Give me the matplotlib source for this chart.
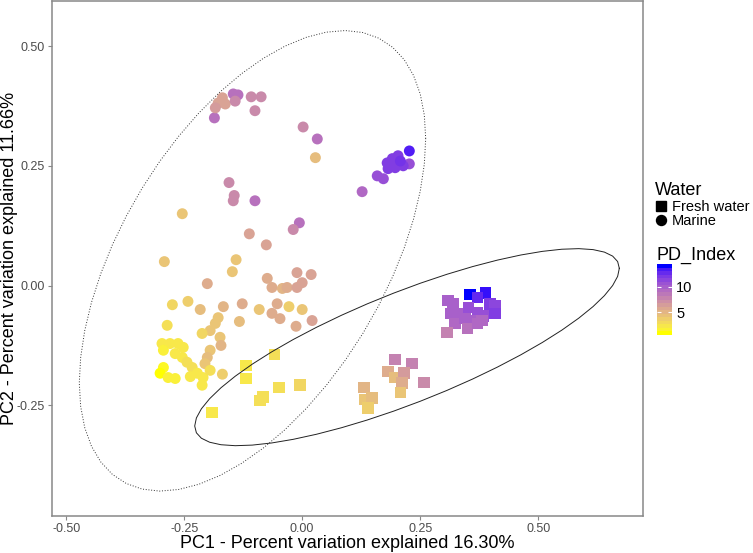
import numpy as np
import matplotlib
matplotlib.use("Agg")
import matplotlib.pyplot as plt
from matplotlib.colors import ListedColormap, Normalize
from matplotlib.lines import Line2D
from matplotlib.cm import ScalarMappable

plt.rcParams['font.family'] = ['Liberation Sans', 'DejaVu Sans']

# ---------------- data ----------------
water_labels = ["Fresh water", "Marine"]

marine_pc1 = [-0.186, -0.169, -0.178, -0.163, -0.184, -0.146, -0.136, -0.142, -0.108, -0.087,
              -0.100, 0.002, 0.032, 0.028, -0.155, -0.144, -0.146, -0.100, -0.254, -0.006,
              -0.019, -0.112, -0.076, -0.292, -0.140, -0.148, -0.201, -0.074, -0.064, -0.042,
              -0.032, -0.011, 0.019, 0.000, -0.011, -0.275, -0.242, -0.216, -0.167, -0.127,
              -0.091, -0.053, -0.028, 0.000, -0.064, -0.047, -0.013, 0.021, -0.133, -0.286,
              -0.178, -0.184, -0.195, -0.212, -0.174, -0.172, -0.195, -0.201, -0.206, -0.297,
              -0.280, -0.263, -0.252, -0.294, -0.269, -0.254, -0.244, -0.233, -0.294, -0.301,
              -0.284, -0.269, -0.237, -0.222, -0.210, -0.212, -0.195, -0.169,
              0.127, 0.159, 0.172, 0.180, 0.191, 0.203, 0.197, 0.227, 0.227, 0.214, 0.182, 0.208]
marine_pc2 = [0.350, 0.392, 0.381, 0.379, 0.371, 0.400, 0.398, 0.385, 0.394, 0.394,
              0.365, 0.331, 0.306, 0.267, 0.215, 0.188, 0.177, 0.177, 0.150, 0.131,
              0.117, 0.108, 0.085, 0.050, 0.054, 0.029, 0.004, 0.015, -0.004, -0.006,
              -0.004, 0.027, 0.023, 0.006, -0.004, -0.040, -0.033, -0.050, -0.044, -0.038,
              -0.050, -0.038, -0.044, -0.050, -0.058, -0.069, -0.085, -0.073, -0.075, -0.083,
              -0.067, -0.079, -0.094, -0.100, -0.108, -0.125, -0.135, -0.150, -0.163, -0.121,
              -0.121, -0.121, -0.129, -0.135, -0.142, -0.150, -0.160, -0.171, -0.171, -0.183,
              -0.192, -0.194, -0.190, -0.183, -0.192, -0.208, -0.177, -0.185,
              0.196, 0.229, 0.223, 0.256, 0.265, 0.271, 0.246, 0.281, 0.254, 0.250, 0.244, 0.260]
marine_pd = [9.0, 6.0, 6.0, 6.0, 6.5, 9.0, 9.0, 7.5, 7.5, 7.5,
             7.5, 7.5, 9.0, 4.5, 7.5, 7.5, 7.5, 9.0, 4.0, 9.0,
             7.5, 6.0, 6.0, 4.0, 4.0, 4.0, 5.5, 5.5, 5.5, 5.0,
             5.5, 6.0, 6.0, 6.0, 6.0, 3.0, 3.5, 4.5, 5.0, 5.5,
             4.0, 5.5, 3.5, 4.0, 5.5, 5.5, 5.5, 6.0, 4.5, 2.5,
             4.0, 4.0, 4.0, 3.0, 4.0, 5.0, 4.0, 4.5, 4.0, 2.0,
             2.0, 2.0, 2.0, 1.5, 2.0, 2.0, 2.5, 2.5, 1.0, 0.6,
             1.5, 1.5, 2.0, 2.0, 2.0, 2.0, 2.5, 3.5,
             9.5, 11.0, 11.0, 12.0, 12.0, 12.0, 12.0, 13.5, 11.0, 12.0, 12.0, 12.5]

fresh_pc1 = [-0.119, -0.119, -0.059, -0.049, -0.004, -0.083, -0.089, -0.191,
             0.197, 0.233, 0.182, 0.197, 0.216, 0.212, 0.208, 0.258, 0.131, 0.133, 0.148, 0.140,
             0.356, 0.388, 0.371, 0.398, 0.409, 0.409, 0.403, 0.309, 0.320, 0.314, 0.335,
             0.352, 0.371, 0.383, 0.367, 0.324, 0.345, 0.381, 0.307, 0.350, 0.371]
fresh_pc2 = [-0.167, -0.194, -0.144, -0.213, -0.208, -0.233, -0.240, -0.265,
             -0.154, -0.163, -0.179, -0.192, -0.183, -0.204, -0.223, -0.202, -0.213, -0.238, -0.235, -0.256,
             -0.019, -0.015, -0.025, -0.038, -0.042, -0.058, -0.058, -0.031, -0.038, -0.058, -0.058,
             -0.046, -0.056, -0.063, -0.073, -0.079, -0.069, -0.073, -0.098, -0.090, -0.079]
fresh_pd = [2.0, 2.0, 2.5, 2.5, 3.0, 2.5, 2.5, 2.0,
            8.0, 8.0, 5.5, 4.5, 6.5, 5.5, 4.0, 7.5, 5.0, 4.0, 4.5, 3.5,
            14.4, 14.0, 13.0, 12.0, 11.5, 12.0, 12.0, 10.0, 10.0, 10.0, 10.0,
            11.0, 11.0, 11.0, 10.0, 9.5, 10.0, 9.5, 8.0, 9.0, 9.5]

x_ticks = [-0.50, -0.25, 0.00, 0.25, 0.50]
y_ticks = [-0.25, 0.00, 0.25, 0.50]
pd_ticks = [5, 10]

# ---------------- colour scale (ggplot-like Lab gradient yellow -> blue) ----------------
M = np.array([[0.4124564, 0.3575761, 0.1804375],
              [0.2126729, 0.7151522, 0.0721750],
              [0.0193339, 0.1191920, 0.9503041]])
WHITE = np.array([0.95047, 1.0, 1.08883])


def srgb_to_lab(rgb):
    rgb = np.asarray(rgb, float)
    lin = np.where(rgb <= 0.04045, rgb / 12.92, ((rgb + 0.055) / 1.055) ** 2.4)
    xyz = M @ lin / WHITE
    d = 6 / 29
    f = np.where(xyz > d ** 3, np.cbrt(xyz), xyz / (3 * d * d) + 4 / 29)
    return np.array([116 * f[1] - 16, 500 * (f[0] - f[1]), 200 * (f[1] - f[2])])


def lab_to_srgb(lab):
    L, a, b = lab
    fy = (L + 16) / 116
    fx = fy + a / 500
    fz = fy - b / 200
    d = 6 / 29
    f = np.array([fx, fy, fz])
    xyz = np.where(f > d, f ** 3, 3 * d * d * (f - 4 / 29)) * WHITE
    lin = np.linalg.solve(M, xyz)
    lin = np.clip(lin, 0, 1)
    rgb = np.where(lin <= 0.0031308, 12.92 * lin, 1.055 * lin ** (1 / 2.4) - 0.055)
    return np.clip(rgb, 0, 1)


lab_lo = srgb_to_lab([1.0, 1.0, 0.0])
lab_hi = srgb_to_lab([0.0, 0.0, 1.0])
cols = [lab_to_srgb(lab_lo + t * (lab_hi - lab_lo)) for t in np.linspace(0, 1, 256)]
cmap = ListedColormap(cols)
cmap_bar = cmap.resampled(20)

all_pd = np.array(marine_pd + fresh_pd)
norm = Normalize(vmin=all_pd.min(), vmax=all_pd.max())


# ---------------- normal-theory 95% ellipse (like stat_ellipse type = "norm") ----------------
def ellipse_path(xv, yv, level=0.95, segments=51):
    pts = np.column_stack([xv, yv])
    n = len(pts)
    loc = pts.mean(axis=0)
    cov = np.cov(pts.T)
    m = n - 1
    fq = (m / 2) * ((1 - level) ** (-2 / m) - 1)   # F(2, m) quantile
    radius = np.sqrt(2 * fq)
    ang = np.linspace(0, 2 * np.pi, segments)
    circ = np.column_stack([np.cos(ang), np.sin(ang)])
    chol = np.linalg.cholesky(cov).T
    e = loc + radius * circ @ chol
    return e[:, 0], e[:, 1]


# ---------------- figure ----------------
fig = plt.figure(figsize=(7.53, 5.53), dpi=100)
ax = fig.add_axes([52 / 753, 37 / 553, 591 / 753, 515 / 553])

ax.scatter(fresh_pc1, fresh_pc2, c=fresh_pd, cmap=cmap, norm=norm, marker='s',
           s=70, linewidths=0, zorder=2)
ax.scatter(marine_pc1, marine_pc2, c=marine_pd, cmap=cmap, norm=norm, marker='o',
           s=62, linewidths=0, zorder=2)

ex, ey = ellipse_path(fresh_pc1, fresh_pc2)
ax.plot(ex, ey, color='#222222', lw=0.7, ls='-', zorder=3)
ex, ey = ellipse_path(marine_pc1, marine_pc2)
ax.plot(ex, ey, color='#333333', lw=0.7, ls=(0, (1, 1.8)), zorder=3)

ax.set_xlim(-0.530, 0.722)
ax.set_ylim(-0.481, 0.594)
ax.set_xticks(x_ticks)
ax.set_xticklabels([f"{v:.2f}" for v in x_ticks])
ax.set_yticks(y_ticks)
ax.set_yticklabels([f"{v:.2f}" for v in y_ticks])
ax.tick_params(axis='both', length=3, width=0.8, color='#888888', labelcolor='#4D4D4D',
               labelsize=9, pad=2)
for sp in ax.spines.values():
    sp.set_color('#888888')
    sp.set_linewidth(1.1)

ax.set_xlabel("PC1 - Percent variation explained 16.30%", fontsize=13, va='baseline')
ax.set_ylabel("PC2 - Percent variation explained 11.66%", fontsize=13, va='baseline')
ax.xaxis.set_label_coords(0.5, (516 - 548) / 515)
ax.yaxis.set_label_coords((14 - 52) / 591, 0.5)

# legend for shape
handles = [Line2D([], [], marker='s', ls='none', color='black', markersize=7.2),
           Line2D([], [], marker='o', ls='none', color='black', markersize=7.2)]
leg = fig.legend(handles, water_labels, title="Water", loc='upper left',
                 bbox_to_anchor=(655 / 753, 1 - 182 / 553), frameon=False,
                 fontsize=10.5, title_fontsize=13, handlelength=0.8, handletextpad=0.35,
                 labelspacing=0.05, borderpad=0, borderaxespad=0, alignment='left')

# colour bar
cax = fig.add_axes([657 / 753, (553 - 335) / 553, 15 / 753, 71 / 553])
sm = ScalarMappable(norm=norm, cmap=cmap_bar)
cb = fig.colorbar(sm, cax=cax, ticks=pd_ticks)
cb.outline.set_visible(False)
cax.tick_params(axis='y', which='both', direction='in', length=3, width=0.8, color='white',
                labelsize=10.5, labelcolor='black', pad=3, right=True, left=True)
cax.minorticks_off()
fig.text(656 / 753, 1 - 255 / 553, "PD_Index", fontsize=13, ha='left', va='center')

fig.savefig("out.png", dpi=100)
